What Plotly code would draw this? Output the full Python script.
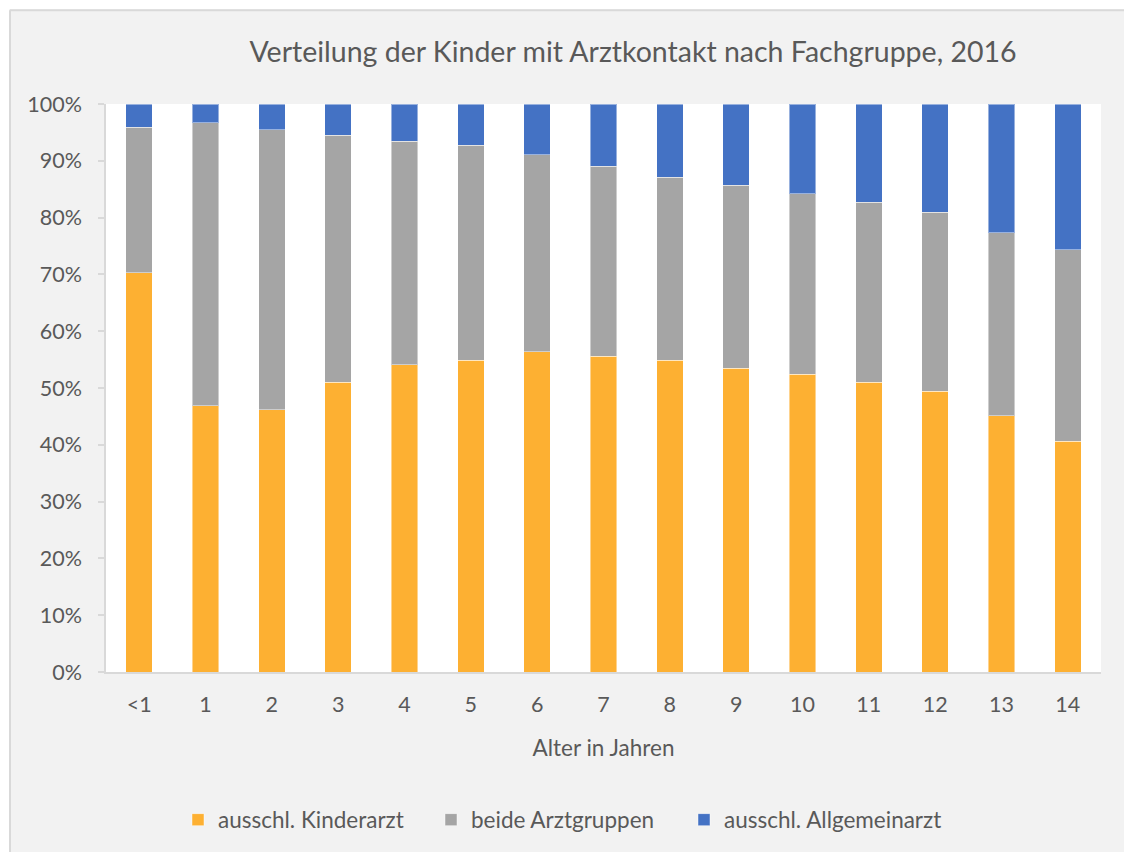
import plotly.graph_objects as go

categories = ["<1", "1", "2", "3", "4", "5", "6", "7", "8", "9", "10", "11", "12", "13", "14"]
kinderarzt = [70.3, 46.9, 46.2, 51.0, 54.1, 54.9, 56.4, 55.6, 54.9, 53.5, 52.4, 51.0, 49.4, 45.1, 40.6]
beide = [25.6, 49.8, 49.3, 43.5, 39.3, 37.8, 34.7, 33.4, 32.2, 32.2, 31.8, 31.7, 31.5, 32.2, 33.7]
allgemein = [4.1, 3.3, 4.5, 5.5, 6.6, 7.3, 8.9, 11.0, 12.9, 14.3, 15.8, 17.3, 19.1, 22.7, 25.7]
series_names = ["ausschl. Kinderarzt", "beide Arztgruppen", "ausschl. Allgemeinarzt"]
y_ticks = [0, 10, 20, 30, 40, 50, 60, 70, 80, 90, 100]
y_ticklabels = [f"{v}%" for v in y_ticks]

colors = ["#FDB032", "#A5A5A5", "#4472C4"]
FONT = "Lato"
TXT = "#595959"

W, H = 1124, 852
L, R, T, B = 106, 1101, 104, 673

legend_ids = ["legend", "legend2", "legend3"]
legend_px = [178, 431, 684]

fig = go.Figure()
for name, vals, col, lg in zip(series_names, [kinderarzt, beide, allgemein], colors, legend_ids):
    fig.add_trace(go.Bar(
        x=categories, y=vals, name=name, legend=lg, showlegend=True,
        marker=dict(color=col, line=dict(color="rgba(255,255,255,0.45)", width=1)),
    ))

def px2x(p):
    return (p - L) / (R - L)

def py2y(p):
    return (B - p) / (B - T)

shapes = [
    dict(type="rect", xref="paper", yref="paper", x0=px2x(-5), x1=px2x(9), y0=py2y(900), y1=py2y(-5),
         fillcolor="white", line=dict(width=0), layer="below"),
    dict(type="rect", xref="paper", yref="paper", x0=px2x(-5), x1=px2x(1130), y0=py2y(9), y1=py2y(-5),
         fillcolor="white", line=dict(width=0), layer="below"),
    dict(type="line", xref="paper", yref="paper", x0=px2x(10), x1=px2x(10), y0=py2y(10), y1=py2y(900),
         line=dict(color="#d9d9d9", width=2)),
    dict(type="line", xref="paper", yref="paper", x0=px2x(10), x1=px2x(1130), y0=py2y(10), y1=py2y(10),
         line=dict(color="#d9d9d9", width=2)),
]

legend_common = dict(orientation="h", xanchor="left", y=py2y(820), yanchor="middle",
                     font=dict(size=22.5, color=TXT), bgcolor="rgba(0,0,0,0)", itemwidth=30)

fig.update_layout(
    width=W, height=H,
    margin=dict(l=L, r=W - R, t=T, b=H - B, pad=0),
    paper_bgcolor="#F2F2F2",
    plot_bgcolor="white",
    barmode="stack",
    bargap=0.6,
    showlegend=True,
    font=dict(family=FONT, color=TXT, size=21),
    title=dict(text="Verteilung der Kinder mit Arztkontakt nach Fachgruppe, 2016",
               x=633 / W, xanchor="center", y=1 - 52 / H, yanchor="middle",
               font=dict(family=FONT, size=28.5, color=TXT)),
    xaxis=dict(
        showline=True, linecolor="#D9D9D9", linewidth=2,
        ticks="", showgrid=False,
        tickfont=dict(size=21.5, color=TXT),
        ticklabelstandoff=12,
        title=dict(text="Alter in Jahren", font=dict(size=22.5, color=TXT), standoff=24),
    ),
    yaxis=dict(
        range=[0, 100],
        tickvals=y_ticks, ticktext=y_ticklabels,
        showline=True, linecolor="#D9D9D9", linewidth=1.5,
        ticks="outside", ticklen=6, tickcolor="#D9D9D9", tickwidth=1.5,
        showgrid=False, zeroline=False,
        tickfont=dict(size=21.5, color=TXT),
        ticklabelstandoff=12,
    ),
    legend=dict(x=px2x(legend_px[0]), **legend_common),
    legend2=dict(x=px2x(legend_px[1]), **legend_common),
    legend3=dict(x=px2x(legend_px[2]), **legend_common),
    shapes=shapes,
)

fig.write_html("out.html", config={"displayModeBar": False},
               post_script="document.body.style.margin='0';")
